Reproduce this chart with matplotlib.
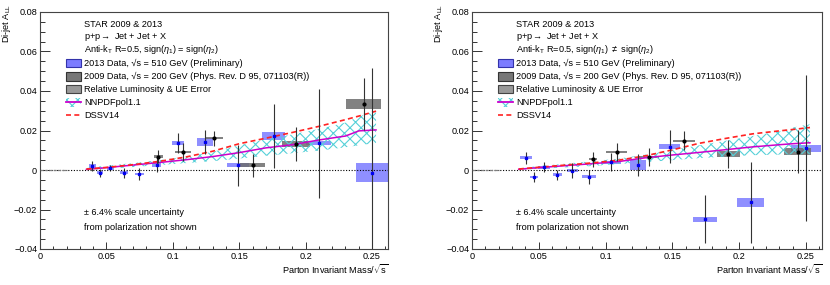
import numpy as np
import matplotlib
matplotlib.use("Agg")
from matplotlib import pyplot as plt
from matplotlib.patches import Rectangle
from matplotlib.lines import Line2D

plt.rcParams['font.family'] = ['Liberation Sans', 'DejaVu Sans']
plt.rcParams['mathtext.fontset'] = 'custom'
plt.rcParams['mathtext.rm'] = 'Liberation Sans'
plt.rcParams['mathtext.it'] = 'Liberation Sans:italic'
plt.rcParams['hatch.linewidth'] = 0.8

# ---- left panel: sign(eta1) = sign(eta2) ----
l13_x = [0.0395, 0.0453, 0.0529, 0.0634, 0.0748, 0.088, 0.104, 0.124, 0.149, 0.176, 0.210, 0.250]
l13_y = [0.0022, -0.0014, 0.0008, -0.0013, -0.0020, 0.0025, 0.0138, 0.0143, 0.0024, 0.0172, 0.0135, -0.0013]
l13_stat = [0.0025, 0.002, 0.0015, 0.0025, 0.003, 0.0035, 0.005, 0.006, 0.0105, 0.016, 0.0276, 0.053]
l13_hw = [0.0026, 0.0025, 0.0025, 0.003, 0.0035, 0.0034, 0.0044, 0.006, 0.0082, 0.0088, 0.0094, 0.012]
l13_sys = [0.001, 0.0008, 0.0006, 0.0008, 0.0007, 0.0011, 0.0011, 0.002, 0.001, 0.002, 0.001, 0.005]

l09_x = [0.0891, 0.1077, 0.131, 0.160, 0.193, 0.2437]
l09_y = [0.0068, 0.0090, 0.0160, 0.0024, 0.0132, 0.0334]
l09_stat = [0.0035, 0.0045, 0.004, 0.0058, 0.0088, 0.013]
l09_hw = [0.0035, 0.0057, 0.0067, 0.0094, 0.0105, 0.0132]
l09_sys = [0.0006, 0.0006, 0.0005, 0.001, 0.0014, 0.0026]

# ---- right panel: sign(eta1) != sign(eta2) ----
r13_x = [0.0404, 0.0463, 0.054, 0.064, 0.075, 0.0876, 0.104, 0.124, 0.148, 0.1745, 0.2085, 0.250]
r13_y = [0.0062, -0.0034, 0.0013, -0.0024, -0.0003, -0.0034, 0.0040, 0.0025, 0.0118, -0.0250, -0.0164, 0.0110]
r13_stat = [0.003, 0.0025, 0.0025, 0.0025, 0.004, 0.0035, 0.0045, 0.0055, 0.0085, 0.0122, 0.0207, 0.037]
r13_hw = [0.0045, 0.003, 0.0045, 0.0035, 0.004, 0.005, 0.0075, 0.006, 0.0078, 0.0087, 0.01, 0.011]
r13_sys = [0.0008, 0.0006, 0.0008, 0.0008, 0.0006, 0.0008, 0.0008, 0.0025, 0.0014, 0.0013, 0.0022, 0.0019]

r09_x = [0.0905, 0.1084, 0.1325, 0.1589, 0.1919, 0.2438]
r09_y = [0.0054, 0.0093, 0.0066, 0.0148, 0.0081, 0.0093]
r09_stat = [0.0037, 0.0046, 0.0046, 0.0047, 0.0072, 0.011]
r09_hw = [0.003, 0.0078, 0.0078, 0.0083, 0.0085, 0.0101]
r09_sys = [0.0005, 0.0005, 0.0006, 0.0006, 0.0013, 0.0019]

# ---- theory curves ----
th_x = [0.035, 0.05, 0.07, 0.09, 0.11, 0.13, 0.15, 0.17, 0.19, 0.21, 0.23, 0.24, 0.253]
l_nnpdf = [0.0003, 0.0012, 0.0025, 0.0038, 0.0052, 0.0068, 0.0088, 0.0112, 0.0128, 0.0152, 0.0172, 0.0198, 0.0203]
l_nnpdf_lo = [0.0, 0.0005, 0.0015, 0.0025, 0.0035, 0.0045, 0.0058, 0.0072, 0.0085, 0.0098, 0.0115, 0.0125, 0.0137]
l_nnpdf_hi = [0.001, 0.0022, 0.0035, 0.005, 0.0068, 0.0092, 0.0125, 0.0155, 0.018, 0.0208, 0.024, 0.027, 0.030]
l_dssv = [0.0005, 0.0013, 0.0027, 0.0044, 0.0066, 0.0095, 0.0133, 0.0161, 0.019, 0.0221, 0.0255, 0.0273, 0.0298]

r_nnpdf = [0.0004, 0.0012, 0.0022, 0.0032, 0.0043, 0.0062, 0.0076, 0.0089, 0.0103, 0.0117, 0.0128, 0.0133, 0.0138]
r_nnpdf_lo = [0.0, 0.0006, 0.0013, 0.002, 0.003, 0.004, 0.005, 0.006, 0.0068, 0.0075, 0.0078, 0.0079, 0.008]
r_nnpdf_hi = [0.0008, 0.002, 0.0032, 0.0045, 0.0058, 0.0078, 0.0102, 0.0125, 0.0148, 0.0172, 0.0195, 0.0215, 0.0232]
r_dssv = [0.0005, 0.0014, 0.0025, 0.0036, 0.005, 0.0072, 0.0102, 0.0135, 0.016, 0.0183, 0.0198, 0.0205, 0.0215]

BLUE_BOX = '#7c7cff'
GREY_BOX = '#6c6c6c'
CYAN = '#55d0d8'
MAGENTA = '#cc00cc'
RED = '#ff2222'
FS = 6.6


def draw_boxes(ax, x, y, hw, sys, color):
    for xi, yi, w, h in zip(x, y, hw, sys):
        ax.add_patch(Rectangle((xi - w, yi - h), 2 * w, 2 * h, facecolor=color,
                               edgecolor='none', alpha=0.85, zorder=2))


def draw_panel(ax, d13, d09, nn, nn_lo, nn_hi, dssv, sign_txt):
    ax.set_xlim(0, 0.262)
    ax.set_ylim(-0.04, 0.08)

    draw_boxes(ax, d13[0], d13[1], d13[3], d13[4], BLUE_BOX)
    draw_boxes(ax, d09[0], d09[1], d09[3], d09[4], GREY_BOX)

    ax.fill_between(th_x, nn_lo, nn_hi, facecolor='none', edgecolor=CYAN,
                    hatch='xxx', linewidth=0, zorder=3)
    ax.plot(th_x, nn, color=MAGENTA, lw=1.1, zorder=4)
    ax.plot(th_x, dssv, color=RED, lw=1.2, ls=(0, (3, 2)), zorder=4)

    ax.errorbar(d13[0], d13[1], yerr=d13[2], fmt='s', ms=2, color='#0000ee',
                ecolor='#333333', elinewidth=0.8, capsize=0, zorder=5)
    ax.errorbar(d09[0], d09[1], yerr=d09[2], fmt='o', ms=2, color='black',
                ecolor='#333333', elinewidth=0.8, capsize=0, zorder=5)

    ax.axhline(0, color='black', ls=(0, (1, 1.5)), lw=0.8, zorder=6)
    ax.plot([0, 0.02], [0, 0], color='0.5', lw=0.9, ls=(0, (2.5, 1)), zorder=6)

    # axes cosmetics, ROOT like
    ax.set_xticks([0, 0.05, 0.1, 0.15, 0.2, 0.25])
    ax.set_xticklabels(['0', '0.05', '0.1', '0.15', '0.2', '0.25'])
    ax.set_yticks([-0.04, -0.02, 0, 0.02, 0.04, 0.06, 0.08])
    ax.set_yticklabels(['\u22120.04', '\u22120.02', '0', '0.02', '0.04', '0.06', '0.08'])
    ax.set_xticks(np.arange(0, 0.261, 0.01), minor=True)
    ax.set_yticks(np.arange(-0.04, 0.0801, 0.005), minor=True)
    ax.tick_params(axis='both', which='both', direction='in', labelsize=FS,
                   color='#333333', width=0.7, pad=2)
    ax.tick_params(axis='y', which='major', length=7.5)
    ax.tick_params(axis='y', which='minor', length=3.7)
    ax.tick_params(axis='x', which='major', length=5)
    ax.tick_params(axis='x', which='minor', length=2.5)
    for sp in ax.spines.values():
        sp.set_linewidth(0.8)
        sp.set_color('#444444')

    ax.set_ylabel(r'Di-jet A$_{\mathrm{LL}}$', fontsize=FS, loc='top')
    ax.yaxis.set_label_coords(-0.078, 1.035)
    ax.set_xlabel(r'Parton Invariant Mass/$\sqrt{\mathrm{s}}$', fontsize=FS, loc='right')
    ax.xaxis.set_label_coords(1.0, -0.055)

    # legend, drawn by hand
    tx = 0.127
    bx = 0.075
    bw = 0.043
    bh = 0.036
    rows = [0.946, 0.893, 0.841, 0.785, 0.728, 0.675, 0.619, 0.565]
    header = ['STAR 2009 & 2013', r'p+p$\rightarrow$ Jet + Jet + X',
              r'Anti-k$_{\mathrm{T}}$ R=0.5, sign($\eta_{\mathrm{1}}$) ' + sign_txt + r' sign($\eta_{\mathrm{2}}$)']
    labels = ['2013 Data, \u221as = 510 GeV (Preliminary)',
              '2009 Data, \u221as = 200 GeV (Phys. Rev. D 95, 071103(R))',
              'Relative Luminosity & UE Error', 'NNPDFpol1.1', 'DSSV14']
    for i, t in enumerate(header):
        ax.text(tx, rows[i], t, transform=ax.transAxes, fontsize=FS, va='center', ha='left')
    for i, t in enumerate(labels):
        ax.text(tx, rows[3 + i], t, transform=ax.transAxes, fontsize=FS, va='center', ha='left')

    icon = [(BLUE_BOX, '#3333aa'), ('#777777', '#333333'), ('#999999', '#444444')]
    for i, (fc, ec) in enumerate(icon):
        ax.add_patch(Rectangle((bx, rows[3 + i] - bh / 2), bw, bh, transform=ax.transAxes,
                               facecolor=fc, edgecolor=ec, lw=0.8, zorder=7))
    ax.add_patch(Rectangle((bx, rows[6] - bh / 2), bw, bh, transform=ax.transAxes,
                           facecolor='none', edgecolor=CYAN, hatch='xxx', lw=0, zorder=7))
    ax.add_line(Line2D([bx, bx + bw], [rows[6], rows[6]], transform=ax.transAxes,
                       color=MAGENTA, lw=1.3, zorder=8))
    ax.add_line(Line2D([bx, bx + bw], [rows[7], rows[7]], transform=ax.transAxes,
                       color=RED, lw=1.2, ls=(0, (3, 2)), zorder=8))

    ax.text(tx, 0.154, '\u00b1 6.4% scale uncertainty', transform=ax.transAxes,
            fontsize=FS, va='center', ha='left')
    ax.text(tx, 0.089, 'from polarization not shown', transform=ax.transAxes,
            fontsize=FS, va='center', ha='left')


fig = plt.figure(figsize=(8.3, 2.85), dpi=100)
ax_l = fig.add_axes([40 / 830, 36 / 285, 348 / 830, 237 / 285])
ax_r = fig.add_axes([472 / 830, 36 / 285, 350 / 830, 237 / 285])

draw_panel(ax_l, (l13_x, l13_y, l13_stat, l13_hw, l13_sys),
           (l09_x, l09_y, l09_stat, l09_hw, l09_sys),
           l_nnpdf, l_nnpdf_lo, l_nnpdf_hi, l_dssv, '=')
draw_panel(ax_r, (r13_x, r13_y, r13_stat, r13_hw, r13_sys),
           (r09_x, r09_y, r09_stat, r09_hw, r09_sys),
           r_nnpdf, r_nnpdf_lo, r_nnpdf_hi, r_dssv, r'$\neq$')

fig.savefig('out.png', dpi=100)
